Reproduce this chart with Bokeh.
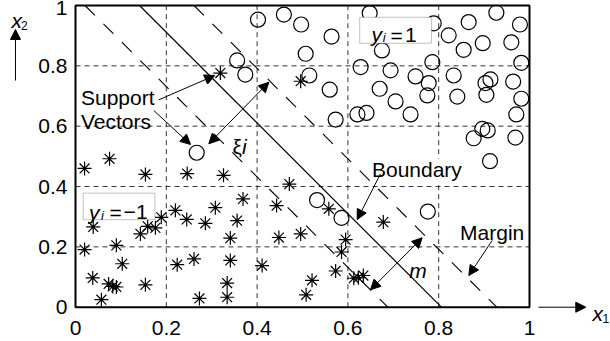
from bokeh.plotting import figure
from bokeh.models import Range1d, FixedTicker, Label, Arrow, NormalHead, BoxAnnotation
from bokeh.embed import file_html
from bokeh.resources import INLINE

# ---- data -------------------------------------------------------------
circle_x = [0.402, 0.459, 0.497, 0.564, 0.356, 0.374, 0.507, 0.515, 0.560, 0.573,
            0.621, 0.641, 0.628, 0.675, 0.648, 0.670, 0.694, 0.705, 0.789, 0.866,
            0.927, 0.979, 0.822, 0.855, 0.897, 0.960, 0.786, 0.982, 0.749, 0.833,
            0.778, 0.775, 0.841, 0.903, 0.914, 0.905, 0.964, 0.982, 0.971, 0.738,
            0.877, 0.896, 0.908, 0.969, 0.913, 0.267, 0.532, 0.586, 0.776]
circle_y = [0.953, 0.970, 0.937, 0.897, 0.818, 0.771, 0.840, 0.768, 0.721, 0.622,
            0.639, 0.644, 0.796, 0.851, 0.975, 0.724, 0.785, 0.682, 0.941, 0.945,
            0.976, 0.937, 0.901, 0.853, 0.875, 0.878, 0.812, 0.810, 0.765, 0.768,
            0.743, 0.702, 0.698, 0.743, 0.755, 0.704, 0.748, 0.691, 0.639, 0.639,
            0.560, 0.591, 0.586, 0.562, 0.484, 0.512, 0.355, 0.296, 0.317]

star_x = [0.020, 0.075, 0.154, 0.246, 0.326, 0.039, 0.020, 0.090, 0.103, 0.038,
          0.073, 0.082, 0.090, 0.057, 0.154, 0.143, 0.159, 0.176, 0.189, 0.220,
          0.245, 0.224, 0.261, 0.273, 0.308, 0.286, 0.356, 0.369, 0.341, 0.341,
          0.334, 0.334, 0.411, 0.443, 0.471, 0.496, 0.448, 0.558, 0.595, 0.586,
          0.573, 0.521, 0.508, 0.613, 0.623, 0.634, 0.678, 0.319, 0.496]
star_y = [0.460, 0.492, 0.440, 0.443, 0.437, 0.266, 0.191, 0.205, 0.144, 0.097,
          0.077, 0.069, 0.067, 0.025, 0.074, 0.243, 0.268, 0.263, 0.298, 0.321,
          0.291, 0.141, 0.160, 0.029, 0.330, 0.278, 0.287, 0.359, 0.229, 0.155,
          0.080, 0.033, 0.138, 0.337, 0.408, 0.243, 0.231, 0.326, 0.224, 0.183,
          0.120, 0.089, 0.041, 0.096, 0.098, 0.105, 0.282, 0.776, 0.749]

boundary_x1 = [0.141, 0.806]
boundary_x2 = [1.0, 0.0]
margin_low_x1 = [0.021, 0.688]
margin_high_x1 = [0.261, 0.928]
margin_x2 = [1.0, 0.0]

tick_values = [0, 0.2, 0.4, 0.6, 0.8, 1]
tick_labels = ["0", "0.2", "0.4", "0.6", "0.8", "1"]
grid_values = [0.2, 0.4, 0.6, 0.8]

FONT = "Liberation Sans"
FS = "21px"

# ---- figure: the frame fills the canvas, axes are pinned at 0 ------------
p = figure(width=610, height=341,
           x_range=Range1d(-75 / 454, 535 / 454),
           y_range=Range1d(-34.3 / 301.7, 1 + 5 / 301.7),
           output_backend="svg", toolbar_location=None, min_border=0)
p.background_fill_color = "white"
p.border_fill_color = "white"
p.outline_line_color = None
p.xgrid.visible = False
p.ygrid.visible = False

overrides = dict(zip(tick_values, tick_labels))
for ax in (p.xaxis[0], p.yaxis[0]):
    ax.fixed_location = 0
    ax.bounds = (0, 1)
    ax.ticker = FixedTicker(ticks=tick_values)
    ax.major_label_overrides = overrides
    ax.axis_line_color = None
    ax.major_tick_line_color = None
    ax.minor_tick_line_color = None
    ax.major_tick_in = 0
    ax.major_tick_out = 0
    ax.minor_tick_in = 0
    ax.minor_tick_out = 0
    ax.major_label_text_font = FONT
    ax.major_label_text_font_size = FS
    ax.major_label_text_color = "black"
p.yaxis.major_label_standoff = 8
p.xaxis.major_label_standoff = 14

# dashed grid
p.segment(x0=grid_values, y0=[0] * 4, x1=grid_values, y1=[1] * 4,
          line_color="#333333", line_width=1, line_dash="5 4")
p.segment(x0=[0] * 4, y0=grid_values, x1=[1] * 4, y1=grid_values,
          line_color="#333333", line_width=1, line_dash="5 4")

# separating lines
p.line(boundary_x1, boundary_x2, line_color="black", line_width=1.2)
p.line(margin_low_x1, margin_x2, line_color="black", line_width=1.1, line_dash="14 12")
p.line(margin_high_x1, margin_x2, line_color="black", line_width=1.1, line_dash="14 12")

# points
p.scatter(circle_x, circle_y, marker="circle", size=15, fill_color=None,
          line_color="black", line_width=1.2)
p.scatter(star_x, star_y, marker="asterisk", size=14, line_color="black",
          line_width=1.2)

# plot box
p.quad(left=[0], right=[1], bottom=[0], top=[1], fill_color=None,
       line_color="black", line_width=2)


def head():
    return NormalHead(size=10, fill_color="black", line_color="black", line_width=1)


def arrow(x0, y0, x1, y1, double=False):
    a = Arrow(x_start=x0, y_start=y0, x_end=x1, y_end=y1, end=head(),
              start=head() if double else None, line_color="black", line_width=1)
    p.add_layout(a)


def label(x, y, text, size=FS, style="normal", bg=None):
    kw = {}
    if bg:
        kw = dict(background_fill_color=bg, background_fill_alpha=1.0)
    p.add_layout(Label(x=x, y=y, text=text, text_font=FONT, text_font_size=size,
                       text_font_style=style, text_color="black",
                       text_baseline="alphabetic", text_align="left", **kw))


# legend-like boxes
p.add_layout(BoxAnnotation(left=0.626, right=0.784, bottom=0.875, top=0.961,
                           fill_color="white", fill_alpha=1.0,
                           line_color="#333333", line_width=1))
label(0.652, 0.904, "y", style="italic")
label(0.677, 0.893, "i", size="13px", style="italic")
label(0.694, 0.902, "=")
label(0.726, 0.902, "1")

p.add_layout(BoxAnnotation(left=0.017, right=0.175, bottom=0.290, top=0.378,
                           fill_color="white", fill_alpha=1.0,
                           line_color="#333333", line_width=1))
label(0.030, 0.314, "y", style="italic")
label(0.056, 0.303, "i", size="13px", style="italic")
label(0.075, 0.314, "=")
label(0.106, 0.314, "\u22121")

# annotations
label(0.012, 0.696, "Support")
label(0.012, 0.6155, "Vectors")
arrow(0.1835, 0.6874, 0.3068, 0.768)
arrow(0.1724, 0.6521, 0.2533, 0.5393)

label(0.346, 0.531, "\u03be")
label(0.367, 0.531, "i", style="italic")
arrow(0.2936, 0.5416, 0.4258, 0.7458, double=True)

label(0.653, 0.455, "Boundary", bg="white")
arrow(0.6718, 0.4421, 0.6205, 0.2903)

label(0.847, 0.246, "Margin", bg="white")
arrow(0.9178, 0.2211, 0.8663, 0.1051)

label(0.735, 0.1216, "m", style="italic")
arrow(0.6498, 0.0577, 0.7636, 0.230, double=True)

# axis names with arrows
label(-0.141, 0.950, "x", style="italic")
label(-0.120, 0.935, "2", size="12px")
arrow(-0.1322, 0.7514, -0.1322, 0.9205)

arrow(1.0198, 0.0, 1.124, 0.0)
label(1.139, -0.0209, "x", style="italic")
label(1.161, -0.0375, "1", size="12px")

open("out.html", "w").write(file_html(p, INLINE))
